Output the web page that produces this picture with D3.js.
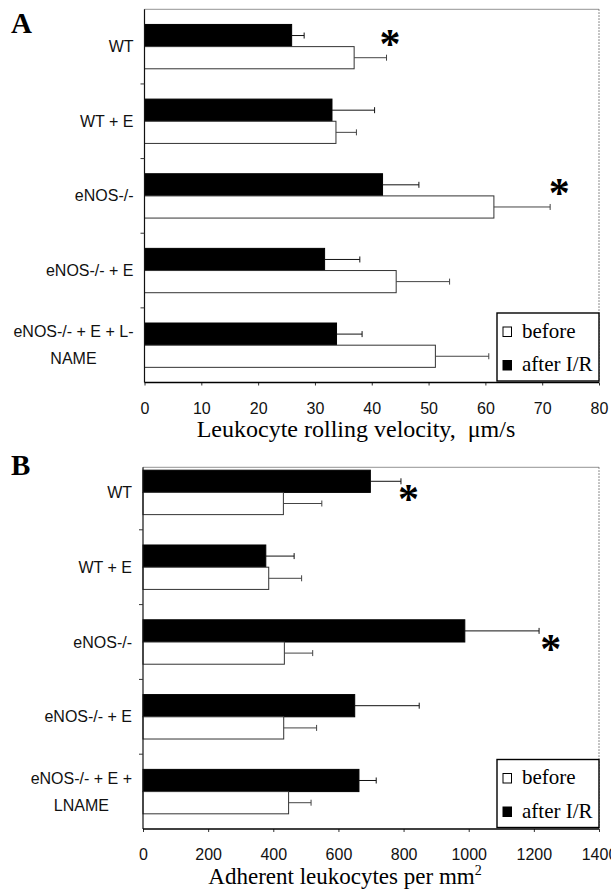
<!DOCTYPE html>
<html><head><meta charset="utf-8">
<script src="https://cdn.jsdelivr.net/npm/d3@7"></script>
<style>body{margin:0;background:#fff}svg{display:block}</style>
</head><body><svg id="c" width="611" height="890"></svg>
<script>
// ---------- data ----------
const categoriesA = [["WT"], ["WT + E"], ["eNOS-/-"], ["eNOS-/- + E"], ["eNOS-/- + E + L-", "NAME"]];
const categoriesB = [["WT"], ["WT + E"], ["eNOS-/-"], ["eNOS-/- + E"], ["eNOS-/- + E +", "LNAME"]];
const seriesNames = ["before", "after I/R"];

const velocityAfter = [25.9, 33.0, 41.9, 31.7, 33.8];
const velocityAfterErr = [2.2, 7.5, 6.4, 6.2, 4.5];
const velocityBefore = [36.9, 33.7, 61.5, 44.3, 51.2];
const velocityBeforeErr = [5.7, 3.6, 9.9, 9.4, 9.4];

const adherentAfter = [698, 377, 988, 650, 663];
const adherentAfterErr = [94, 87, 228, 198, 53];
const adherentBefore = [431, 386, 434, 432, 447];
const adherentBeforeErr = [118, 101, 87, 101, 69];

const ticksA = [0, 10, 20, 30, 40, 50, 60, 70, 80];
const ticksB = [0, 200, 400, 600, 800, 1000, 1200, 1400];

const asterisksA = [{cat: 0, x: 43.2}, {cat: 2, x: 73.0}];
const asterisksB = [{cat: 0, x: 815}, {cat: 2, x: 1252}];

const titleA = "Leukocyte rolling velocity,\u00a0\u00a0\u03bcm/s";
const titleB = "Adherent leukocytes per mm";

// ---------- drawing ----------
const svg = d3.select("#c");
svg.append("rect").attr("width", 611).attr("height", 890).attr("fill", "#fff");
const SANS = "'Liberation Sans', Arial, sans-serif";
const SERIF = "'Liberation Serif', 'Times New Roman', serif";

function panel(o) {
  const g = svg.append("g");
  const n = o.cats.length;
  const x = d3.scaleLinear().domain([0, o.max]).range([o.left, o.right]);
  const y = d3.scaleBand().domain(d3.range(n)).range([o.bandTop, o.bottom])
    .paddingInner(0.406).paddingOuter(0.203);
  const ys = d3.scaleBand().domain(["after I/R", "before"]).range([0, y.bandwidth()]);

  // frame
  g.append("line").attr("x1", o.left).attr("x2", o.right).attr("y1", o.frameTop).attr("y2", o.frameTop)
    .attr("stroke", "#777").attr("stroke-width", 0.8);
  g.append("line").attr("x1", o.right).attr("x2", o.right).attr("y1", o.frameTop).attr("y2", o.bottom)
    .attr("stroke", "#666").attr("stroke-width", 1).attr("stroke-dasharray", "1.5,1.5");

  const bars = [];
  d3.range(n).forEach(i => {
    bars.push({i, s: "after I/R", v: o.after[i], e: o.afterErr[i]});
    bars.push({i, s: "before", v: o.before[i], e: o.beforeErr[i]});
  });

  g.selectAll("rect.bar").data(bars).join("rect").attr("class", "bar")
    .attr("x", x(0)).attr("y", d => y(d.i) + ys(d.s))
    .attr("width", d => x(d.v) - x(0)).attr("height", ys.bandwidth())
    .attr("fill", d => d.s === "before" ? "#fff" : "#000")
    .attr("stroke", d => d.s === "before" ? "#333" : "#000")
    .attr("stroke-width", 1);

  // error bars
  const eg = g.selectAll("g.err").data(bars).join("g").attr("class", "err")
    .attr("stroke", d => d.s === "before" ? "#444" : "#111").attr("stroke-width", 1);
  const cyf = d => y(d.i) + ys(d.s) + ys.bandwidth() / 2;
  eg.append("line").attr("x1", d => x(d.v)).attr("x2", d => x(d.v + d.e))
    .attr("y1", cyf).attr("y2", cyf);
  eg.append("line").attr("x1", d => x(d.v + d.e)).attr("x2", d => x(d.v + d.e))
    .attr("y1", d => cyf(d) - 3).attr("y2", d => cyf(d) + 3);

  // left axis line + separator ticks
  g.append("line").attr("x1", o.left).attr("x2", o.left).attr("y1", o.frameTop).attr("y2", o.bottom)
    .attr("stroke", "#111").attr("stroke-width", 1.2);
  const gap = (y.step() - y.bandwidth()) / 2;
  g.selectAll("line.sep").data(d3.range(1, n)).join("line").attr("class", "sep")
    .attr("x1", o.left - 4).attr("x2", o.left)
    .attr("y1", i => y(i) - gap).attr("y2", i => y(i) - gap)
    .attr("stroke", "#333").attr("stroke-width", 1);

  // x axis
  const ax = g.append("g").attr("transform", `translate(0,${o.bottom})`)
    .call(d3.axisBottom(x).tickValues(o.ticks).tickSize(3).tickPadding(17).tickFormat(d3.format("d")));
  ax.select(".domain").remove();
  ax.selectAll(".tick line").attr("stroke", "#333");
  ax.selectAll(".tick text").attr("font-family", SANS).attr("font-size", 16).attr("fill", "#111");
  g.append("line").attr("x1", o.left).attr("x2", o.right).attr("y1", o.bottom).attr("y2", o.bottom)
    .attr("stroke", "#000").attr("stroke-width", 1.6);

  // category labels
  o.cats.forEach((lines, i) => {
    const cy = y(i) + y.bandwidth() / 2;
    const t = g.append("text").attr("font-family", SANS).attr("font-size", 16).attr("fill", "#111");
    const lh = 27;
    const spans = lines.map((s, k) => t.append("tspan").text(s)
      .attr("y", cy + (k - (lines.length - 1) / 2) * lh + 5.5));
    const w = d3.max(spans.map(sp => sp.node().getComputedTextLength()));
    const cx = o.left - 11 - w / 2;
    spans.forEach(sp => sp.attr("x", cx).attr("text-anchor", "middle"));
  });

  // asterisks
  g.selectAll("text.ast").data(o.asterisks).join("text").attr("class", "ast")
    .attr("x", d => x(d.x)).attr("y", d => y(d.cat) + y.bandwidth() / 2 + o.astDy + 19)
    .attr("text-anchor", "middle").attr("font-family", SERIF).attr("font-weight", "bold")
    .attr("font-size", 42).attr("fill", "#000").text("*");

  // legend
  const lw = 102, lhgt = 68;
  const lx = o.right - lw, ly = o.bottom - 1.5 - lhgt;
  const lg = g.append("g");
  lg.append("rect").attr("x", lx).attr("y", ly).attr("width", lw).attr("height", lhgt)
    .attr("fill", "#fff").attr("stroke", "#000").attr("stroke-width", 1.4);
  seriesNames.forEach((s, k) => {
    const by = ly + 24.5 + k * 33.5;
    lg.append("rect").attr("x", lx + 6).attr("y", by - 10.5).attr("width", 8.5).attr("height", 9.5)
      .attr("fill", s === "before" ? "#fff" : "#000").attr("stroke", "#000").attr("stroke-width", 1);
    lg.append("text").attr("x", lx + 25).attr("y", by).attr("font-family", SERIF)
      .attr("font-size", 21).attr("fill", "#000").text(s);
  });

  // title
  const tt = g.append("text").attr("x", o.titleX).attr("y", o.titleY).attr("text-anchor", "middle")
    .attr("font-family", SERIF).attr("font-size", o.titleSize).attr("fill", "#000").text(o.title);
  if (o.sup) tt.append("tspan").attr("font-size", 14).attr("dy", -9).text(o.sup);

  // panel letter
  g.append("text").attr("x", 11).attr("y", o.letterY).attr("font-family", SERIF).attr("font-weight", "bold")
    .attr("font-size", 29).attr("fill", "#000").text(o.letter);
}

panel({cats: categoriesA, after: velocityAfter, afterErr: velocityAfterErr, before: velocityBefore,
  beforeErr: velocityBeforeErr, max: 80, ticks: ticksA, asterisks: asterisksA, astDy: -8,
  left: 144.5, right: 599, frameTop: 9.3, bandTop: 9.3, bottom: 382.5,
  title: titleA, titleX: 356, titleY: 437, titleSize: 24, letter: "A", letterY: 33});

panel({cats: categoriesB, after: adherentAfter, afterErr: adherentAfterErr, before: adherentBefore,
  beforeErr: adherentBeforeErr, max: 1400, ticks: ticksB, asterisks: asterisksB, astDy: 2,
  left: 143, right: 599, frameTop: 467.3, bandTop: 455, bottom: 829,
  title: titleB, sup: "2", titleX: 345, titleY: 884, titleSize: 23, letter: "B", letterY: 475});
</script></body></html>
